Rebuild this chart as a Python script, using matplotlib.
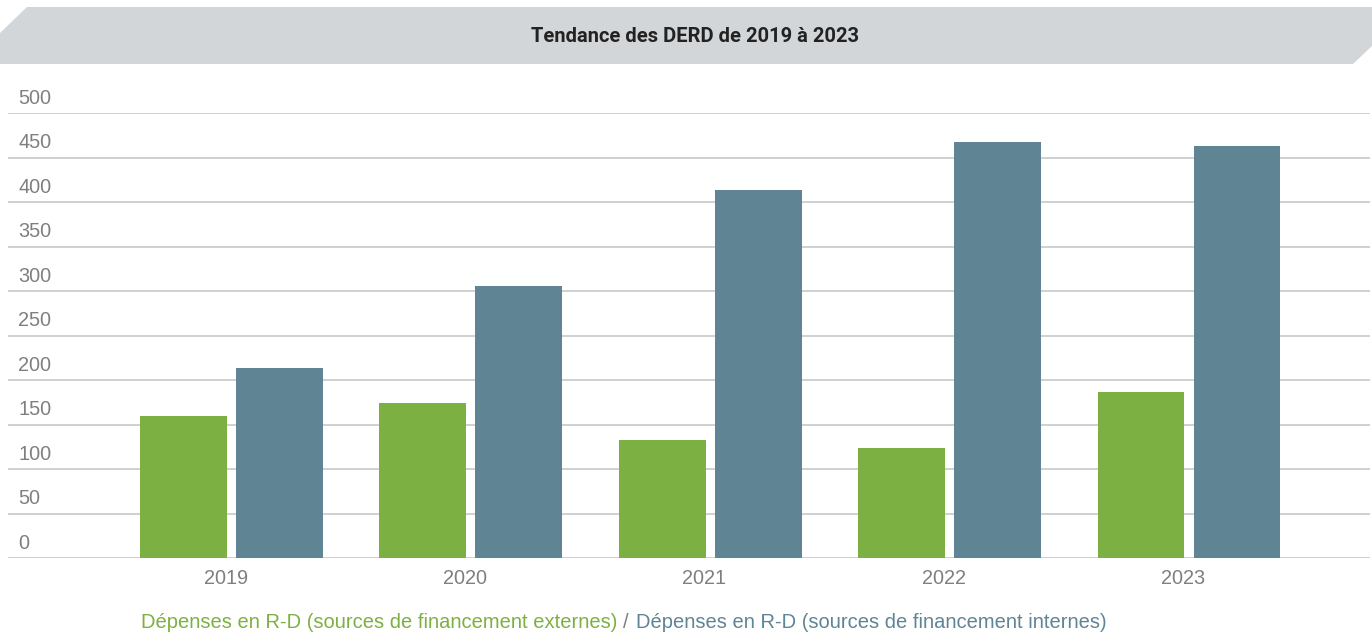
import matplotlib
matplotlib.use("Agg")
import matplotlib.pyplot as plt
from matplotlib.patches import Polygon
import numpy as np

# data
years = ["2019", "2020", "2021", "2022", "2023"]
externes = [160, 174, 133, 124, 187]
internes = [213, 306, 413, 467, 463]
y_ticks = [0, 50, 100, 150, 200, 250, 300, 350, 400, 450, 500]

title = "Tendance des DERD de 2019 à 2023"
label_ext = "Dépenses en R-D (sources de financement externes)"
label_int = "Dépenses en R-D (sources de financement internes)"

GREEN = "#7db042"
BLUE = "#5f8595"
GRID = "#c8c8c8"
TICK = "#7f7f7f"
BANNER = "#d3d6d9"

plt.rcParams["font.family"] = ["Liberation Sans", "DejaVu Sans"]

W, H = 1372, 633
fig = plt.figure(figsize=(W / 100, H / 100), dpi=100)

# title banner with cut corners
banner = Polygon([(0 / W, 1 - 33 / H), (27 / W, 1 - 7 / H), (1 / 1, 1 - 7 / H),
                  (1 / 1, 1 - 46 / H), (1353 / W, 1 - 64 / H), (0, 1 - 64 / H)],
                 closed=True, facecolor=BANNER, edgecolor="none",
                 transform=fig.transFigure)
fig.patches.append(banner)
fig.text(695 / W, 1 - 36 / H, title, ha="center", va="center",
         fontsize=14.5, fontweight="bold", color="#222222",
         family=["Roboto", "DejaVu Sans"])

# plot area: gridlines span x 8..1370, y 0 at 558, 500 at 113
ax = fig.add_axes([8 / W, 1 - 558 / H, (1370 - 8) / W, (558 - 113) / H])
x = np.arange(len(years))
bw = 0.363
off = 0.2005
ax.bar(x - off, externes, width=bw, color=GREEN, zorder=3)
ax.bar(x + off, internes, width=bw, color=BLUE, zorder=3)

ax.set_xlim(-0.934, 4.756)
ax.set_ylim(0, 500)
ax.set_yticks(y_ticks)
ax.yaxis.grid(True, color=GRID, linewidth=1.2, zorder=0)
ax.tick_params(axis="y", length=0, labelleft=False)
# value labels sit above their gridline, flush left
for v in y_ticks:
    ax.text(0.0074, v + 16.5, str(v), transform=ax.get_yaxis_transform(),
            ha="left", va="center", fontsize=14.3, color=TICK)

ax.set_xticks(x - 0.025)
ax.set_xticklabels(years, fontsize=14.3, color=TICK)
ax.tick_params(axis="x", length=0, pad=8)
for s in ["top", "right", "left", "bottom"]:
    ax.spines[s].set_visible(False)

# colored legend line below the chart
fig.canvas.draw()
r = fig.canvas.get_renderer()
ly = 1 - 622 / H
fs = 14.5
t1 = fig.text(141 / W, ly, label_ext, color=GREEN, fontsize=fs, va="center")
bb = t1.get_window_extent(renderer=r)
t2 = fig.text(bb.x1 / W + 6 / W, ly, "/", color=TICK, fontsize=fs, va="center")
bb2 = t2.get_window_extent(renderer=r)
fig.text(bb2.x1 / W + 7 / W, ly, label_int, color=BLUE, fontsize=fs, va="center")

fig.savefig("out.png", dpi=100)
